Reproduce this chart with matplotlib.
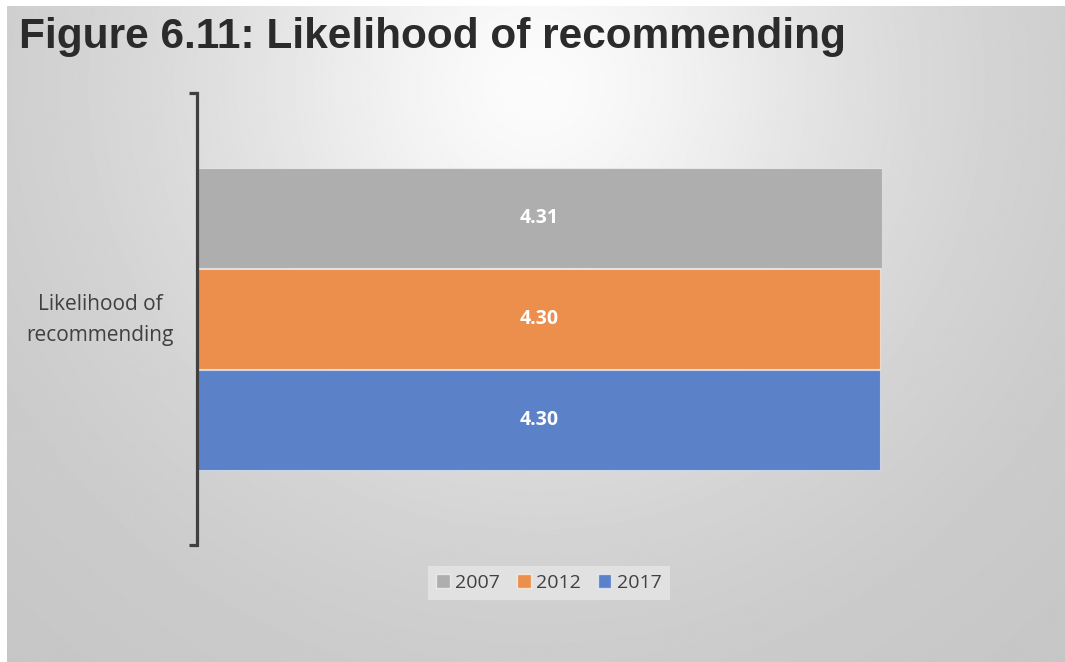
import numpy as np
import matplotlib
matplotlib.use("Agg")
import matplotlib.pyplot as plt
from matplotlib.patches import Patch

# Survey results
category = "Likelihood of\nrecommending"
years = ["2007", "2012", "2017"]
scores = [4.31, 4.30, 4.30]
colors = ["#AEAEAE", "#EC8E4C", "#5B82C8"]

W, H = 1065, 662
fig = plt.figure(figsize=(W / 100, H / 100), dpi=100, facecolor="white")

# Soft radial grey background panel, brightest near the top centre
bg = fig.add_axes([7 / W, 0, 1 - 7 / W, 1 - 6 / H], zorder=-10)
yy, xx = np.mgrid[0:H, 0:W]
cx, cy = 0.5 * W, 0.12 * H
d = np.sqrt(((xx - cx) / W) ** 2 + ((yy - cy) / (1.6 * H)) ** 2)
shade = 0.985 - 0.22 * (1 - np.exp(-(d / 0.38) ** 1.6))
bg.imshow(shade, cmap="gray", vmin=0, vmax=1, aspect="auto",
          extent=[0, 1, 0, 1], interpolation="bilinear")
bg.set_axis_off()

fig.text(19 / W, 1 - 37 / H, "Figure 6.11: Likelihood of recommending",
         family="Liberation Sans", weight="bold", fontsize=30.5,
         color="#2b2b2b", va="center", ha="left")

left, right = 197 / W, 882 / W
top, bottom = 1 - 93 / H, 1 - 545 / H
ax = fig.add_axes([left, bottom, right - left, top - bottom])
ax.set_facecolor("none")

bar_h = 100 / 452
offsets = [bar_h * 1.01, 0.0, -bar_h * 1.01]
for yr, val, col, off in zip(years, scores, colors, offsets):
    ax.barh(off, val, height=bar_h, color=col, edgecolor=(1, 1, 1, 0.5),
            linewidth=0.8, label=yr)
    ax.text(val / 2, off, f"{val:.2f}", ha="center", va="center",
            color="white", fontsize=14, weight="bold", family="Open Sans")

ax.set_xlim(0, max(scores))
ax.set_ylim(-0.5, 0.5)
for s in ["top", "right", "bottom"]:
    ax.spines[s].set_visible(False)
ax.spines["left"].set_linewidth(2.3)
ax.spines["left"].set_color("#404040")
ax.set_xticks([])
ax.set_yticks([-0.5, 0.5])
ax.set_yticklabels([])
ax.tick_params(axis="y", length=6, width=2.3, color="#404040")

fig.text(100 / W, 1 - 320 / H, category, ha="center", va="center",
         fontsize=15, family="Open Sans", color="#404040", linespacing=1.6)

handles = [Patch(facecolor=c, edgecolor=(1, 1, 1, 0.6), label=y)
           for y, c in zip(years, colors)]
leg = fig.legend(handles=handles, loc="center", ncol=3,
                 bbox_to_anchor=(549 / W, 1 - 583 / H),
                 frameon=True, fancybox=False, framealpha=1,
                 facecolor="#e1e1e1", edgecolor="none",
                 prop={"family": "Open Sans", "size": 14},
                 handlelength=0.7, handleheight=0.7, handletextpad=0.3,
                 columnspacing=0.85, borderpad=0.4)
for t in leg.get_texts():
    t.set_color("#404040")

fig.savefig("out.png", dpi=100, facecolor="white")
